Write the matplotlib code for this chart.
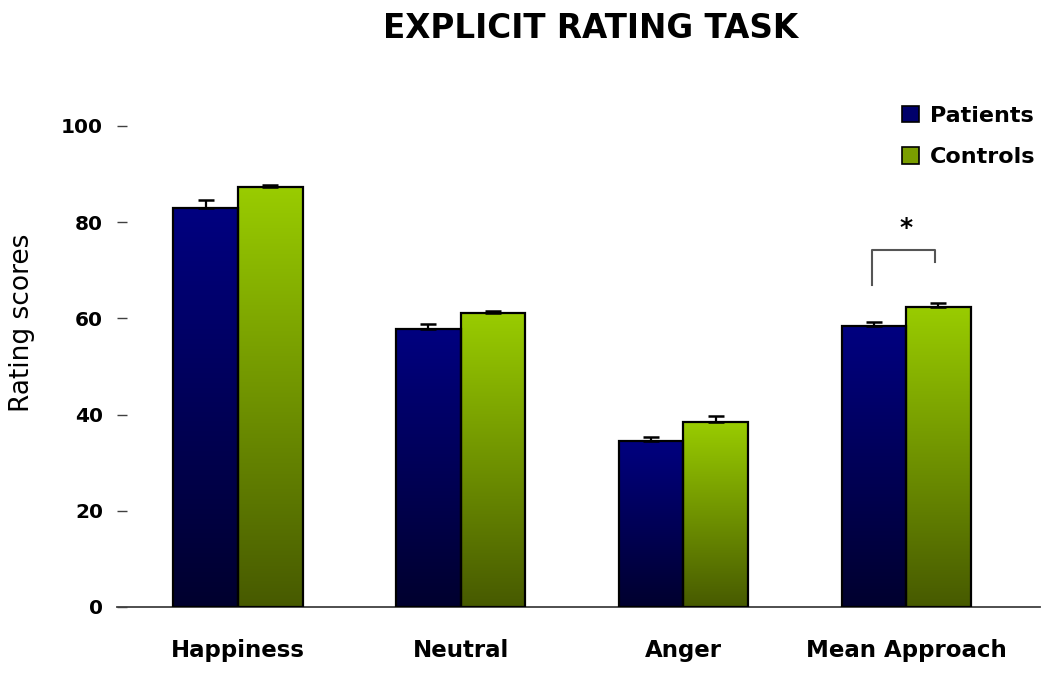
import numpy as np
import matplotlib
matplotlib.use("Agg")
import matplotlib.pyplot as plt
from matplotlib.colors import LinearSegmentedColormap
from matplotlib.patches import Patch

# data
categories = ["Happiness", "Neutral", "Anger", "Mean Approach"]
patients = [83.0, 57.8, 34.6, 58.4]
patients_err = [1.6, 1.0, 0.7, 0.9]
controls = [87.3, 61.1, 38.4, 62.3]
controls_err = [0.4, 0.4, 1.3, 0.8]
yticks = [0, 20, 40, 60, 80, 100]

# significance bracket over "Mean Approach"
sig_group = 3
sig_top = 74.2
sig_left_bottom = 66.9
sig_right_bottom = 71.7
sig_star_y = 76.3

pat_cmap = LinearSegmentedColormap.from_list("pat", ["#00002e", "#000080"])
con_cmap = LinearSegmentedColormap.from_list("con", ["#475a00", "#99cc00"])

fig = plt.figure(figsize=(10.5, 6.77), dpi=100)
ax = fig.add_axes([117 / 1050, 1 - 607 / 677, 923 / 1050, 481 / 677])

x = np.arange(len(categories))
w = 0.29

def gradient_bars(xpos, vals, errs, cmap):
    bars = ax.bar(xpos, vals, width=w, color="none", edgecolor="black",
                  linewidth=1.6, zorder=3)
    grad = np.linspace(0, 1, 256).reshape(-1, 1)
    for b in bars:
        x0 = b.get_x()
        im = ax.imshow(grad, cmap=cmap, origin="lower", aspect="auto",
                       extent=[x0, x0 + b.get_width(), 0, b.get_height()],
                       zorder=2)
        im.set_clip_path(b)
    ax.errorbar(xpos, vals, yerr=[np.zeros(len(vals)), errs], fmt="none",
                ecolor="black", elinewidth=1.6, capsize=5.5, capthick=1.8,
                zorder=4)
    return bars

gradient_bars(x - w / 2, patients, patients_err, pat_cmap)
gradient_bars(x + w / 2, controls, controls_err, con_cmap)

ax.set_xlim(-0.543, 3.601)
ax.set_ylim(0, 100)

for s in ["top", "right", "left"]:
    ax.spines[s].set_visible(False)
ax.spines["bottom"].set_color("#404040")
ax.spines["bottom"].set_linewidth(1.3)

ax.set_yticks(yticks)
ax.tick_params(axis="y", direction="in", length=7, width=1, color="#404040",
               pad=10, labelsize=14.5)
for t in ax.get_yticklabels():
    t.set_fontweight("bold")
ax.set_xticks(x)
ax.set_xticklabels(categories, fontsize=16.5, fontweight="bold")
ax.tick_params(axis="x", length=0, pad=23)

ax.set_ylabel("Rating scores", fontsize=19, va="center")
ax.yaxis.set_label_coords(-0.103, 0.5915)

# significance bracket
xl = sig_group - w / 2 - 0.01
xr = sig_group + w / 2 - 0.015
ax.plot([xl, xl, xr, xr], [sig_left_bottom, sig_top, sig_top, sig_right_bottom],
        color="#555555", lw=1.5, zorder=5)
ax.text(sig_group, sig_star_y, "*", ha="center", va="bottom",
        fontsize=18, fontweight="bold")

fig.text(591 / 1050, 1 - 28 / 677, "EXPLICIT RATING TASK", ha="center",
         va="center", fontsize=23.5, fontweight="bold")

handles = [Patch(facecolor="#00006a", edgecolor="black", linewidth=1.2),
           Patch(facecolor="#7a9e00", edgecolor="black", linewidth=1.2)]
fig.legend(handles, ["Patients", "Controls"], loc="upper left",
           bbox_to_anchor=(902 / 1050, 1 - 106 / 677), frameon=False,
           prop={"weight": "bold", "size": 16}, handlelength=0.75,
           handleheight=0.75, handletextpad=0.5, labelspacing=0.95,
           borderpad=0, borderaxespad=0)

fig.savefig("out.png", dpi=100)
